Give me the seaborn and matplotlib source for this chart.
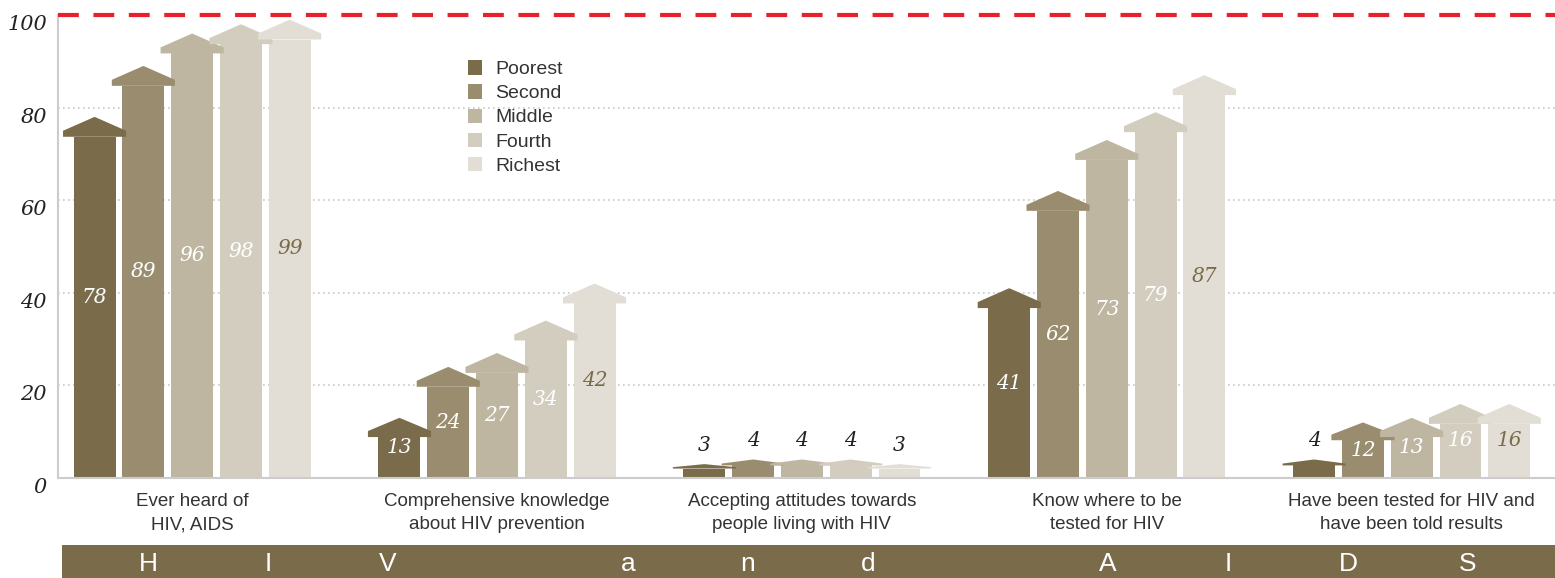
import numpy as np
import pandas as pd
import seaborn as sns
import matplotlib.pyplot as plt
from matplotlib.patches import Polygon, Patch

# data
categories = ["Ever heard of\nHIV, AIDS",
              "Comprehensive knowledge\nabout HIV prevention",
              "Accepting attitudes towards\npeople living with HIV",
              "Know where to be\ntested for HIV",
              "Have been tested for HIV and\nhave been told results"]
quintiles = ["Poorest", "Second", "Middle", "Fourth", "Richest"]
poorest = [78, 13, 3, 41, 4]
second = [89, 24, 4, 62, 12]
middle = [96, 27, 4, 73, 13]
fourth = [98, 34, 4, 79, 16]
richest = [99, 42, 3, 87, 16]
yticks = [0, 20, 40, 60, 80, 100]
banner_letters = ["H", "I", "V", "", "a", "n", "d", "", "A", "I", "D", "S"]

colors = ["#7a6c4a", "#9a8d6f", "#bfb6a2", "#d3cdbf", "#e2ded5"]
label_colors = ["white", "white", "white", "white", "#7a6c4a"]

series = [poorest, second, middle, fourth, richest]
rows = []
for q, vals in zip(quintiles, series):
    for c, v in zip(categories, vals):
        rows.append({"cat": c, "quintile": q, "value": v})
df = pd.DataFrame(rows)

# arrow head sizes (in y units)
def head_sizes(v):
    tri = min(3.0, 0.22 * v)
    rim = min(1.3, 0.1 * v)
    return tri, rim

df["body"] = [v - sum(head_sizes(v)) for v in df["value"]]

sns.set_theme(style="white")
serif = ["DejaVu Serif"]
sans = ["Liberation Sans Narrow", "Liberation Sans", "DejaVu Sans"]
plt.rcParams["font.family"] = sans

fig = plt.figure(figsize=(15.55, 5.78), dpi=100)
ax = fig.add_axes([58 / 1555, 1 - 478 / 578, 1 - 58 / 1555, 463 / 578])

sns.barplot(data=df, x="cat", y="body", hue="quintile", order=categories,
            hue_order=quintiles, palette=colors, width=0.80, gap=0.14,
            saturation=1, linewidth=0, legend=False, ax=ax)

head_w = 0.207
for qi, cont in enumerate(ax.containers):
    for ci, bar in enumerate(cont):
        v = series[qi][ci]
        tri, rim = head_sizes(v)
        xc = bar.get_x() + bar.get_width() / 2
        b = v - tri - rim
        pts = [(xc - head_w / 2, b), (xc + head_w / 2, b),
               (xc + head_w / 2, v - tri), (xc, v), (xc - head_w / 2, v - tri)]
        ax.add_patch(Polygon(pts, closed=True, facecolor=colors[qi],
                             edgecolor="none", zorder=3))
        if v >= 10:
            ax.text(xc, v / 2, str(v), ha="center", va="center",
                    fontsize=14.5, style="italic", family=serif,
                    color=label_colors[qi], zorder=5)
        else:
            ax.text(xc, v + 4, str(v), ha="center", va="center",
                    fontsize=14.5, style="italic", family=serif,
                    color="#222222", zorder=5)

ax.set_xlim(-0.44, 4.47)
ax.set_ylim(0, 100)
ax.set_xlabel("")
ax.set_ylabel("")
ax.set_yticks(yticks)
ax.set_yticklabels([str(t) for t in yticks], fontsize=15, style="italic",
                   family=serif, color="#222222")
for lab in ax.get_yticklabels():
    lab.set_va("top")
ax.tick_params(axis="y", length=0, pad=8)
ax.tick_params(axis="x", length=0, pad=11)
for lab in ax.get_xticklabels():
    lab.set_fontsize(13.5)
    lab.set_color("#333333")
    lab.set_linespacing(1.45)

for t in yticks[1:-1]:
    ax.axhline(t, color="#c8c8c8", lw=1.2, ls=(0, (1, 2)), zorder=0)
ax.axhline(100, color="#e8202a", lw=3, ls=(0, (5, 3.5)), clip_on=False, zorder=6)

for s in ["top", "right"]:
    ax.spines[s].set_visible(False)
ax.spines["left"].set_color("#cccccc")
ax.spines["left"].set_linewidth(1.5)
ax.spines["bottom"].set_color("#cccccc")
ax.spines["bottom"].set_linewidth(1.5)

handles = [Patch(facecolor=c, edgecolor="none", label=q)
           for q, c in zip(quintiles, colors)]
ax.legend(handles=handles, loc="upper left", bbox_to_anchor=(0.262, 0.94),
          frameon=False, fontsize=14, handlelength=0.75, handleheight=0.75,
          handletextpad=0.65, labelspacing=0.32, labelcolor="#333333")

# banner at the bottom
bax = fig.add_axes([62 / 1555, 0, 1 - 62 / 1555, 33 / 578])
bax.set_facecolor("#7a6c4a")
bax.set_xlim(62, 1555)
bax.set_ylim(0, 1)
bax.set_xticks([])
bax.set_yticks([])
for s in bax.spines.values():
    s.set_visible(False)
for k, ch in enumerate(banner_letters):
    if ch:
        bax.text(148 + 120 * k, 0.42, ch, ha="center", va="center",
                 fontsize=19, color="white")

fig.savefig("out.png", dpi=100)
